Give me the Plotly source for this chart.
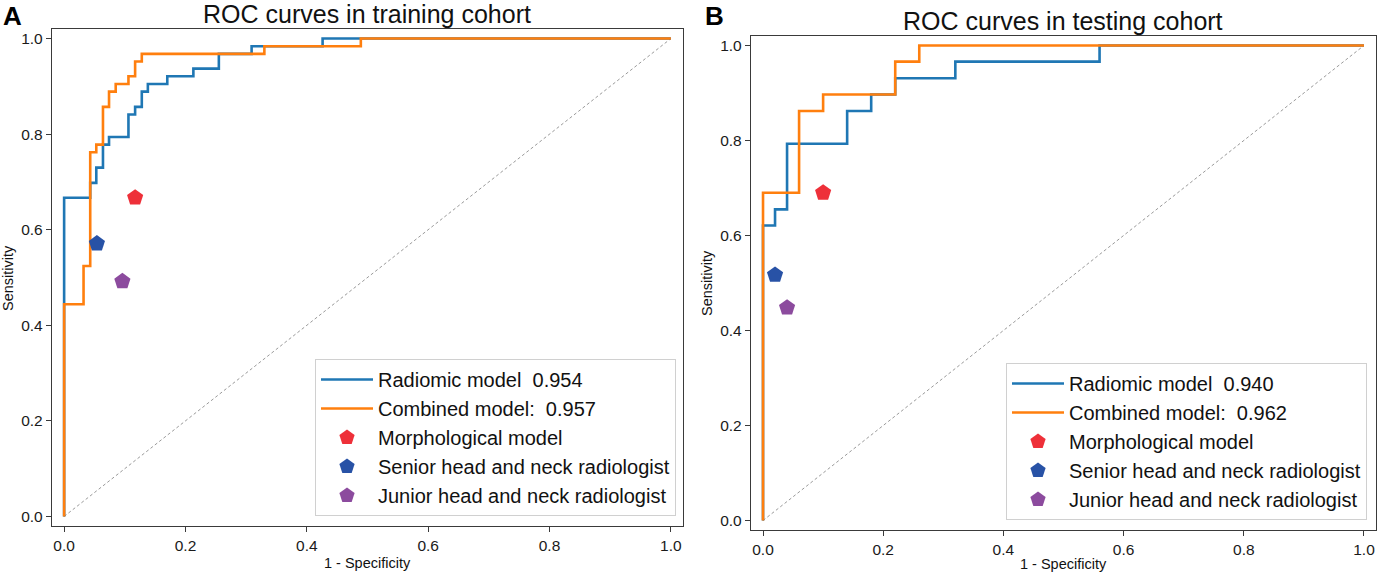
import plotly.graph_objects as go

# ---------------- data ----------------
# Panel A: training cohort (ROC corner points, step shape 'hv')
train_radiomic_fpr = [0.0, 0.0, 0.043, 0.053, 0.064, 0.074, 0.106, 0.117, 0.128, 0.138, 0.170, 0.213, 0.255, 0.309, 0.426, 1.0]
train_radiomic_tpr = [0.0, 0.667, 0.698, 0.730, 0.778, 0.794, 0.841, 0.857, 0.889, 0.905, 0.921, 0.937, 0.968, 0.984, 1.0, 1.0]
train_combined_fpr = [0.0, 0.0, 0.032, 0.043, 0.053, 0.064, 0.074, 0.085, 0.106, 0.117, 0.128, 0.330, 0.489, 1.0]
train_combined_tpr = [0.0, 0.444, 0.524, 0.762, 0.778, 0.857, 0.889, 0.905, 0.921, 0.952, 0.968, 0.984, 1.0, 1.0]

# Panel B: testing cohort
test_radiomic_fpr = [0.0, 0.0, 0.02, 0.04, 0.14, 0.18, 0.22, 0.32, 0.56, 1.0]
test_radiomic_tpr = [0.0, 0.621, 0.655, 0.793, 0.862, 0.897, 0.931, 0.966, 1.0, 1.0]
test_combined_fpr = [0.0, 0.0, 0.06, 0.10, 0.22, 0.26, 1.0]
test_combined_tpr = [0.0, 0.690, 0.862, 0.897, 0.966, 1.0, 1.0]

# single operating points: [morphological, senior, junior]
point_names = ["Morphological model", "Senior head and neck radiologist", "Junior head and neck radiologist"]
train_points_fpr = [0.117, 0.054, 0.096]
train_points_tpr = [0.667, 0.571, 0.492]
test_points_fpr = [0.10, 0.02, 0.04]
test_points_tpr = [0.690, 0.517, 0.448]

train_auc = {"radiomic": "0.954", "combined": "0.957"}
test_auc = {"radiomic": "0.940", "combined": "0.962"}

diag = [0.0, 1.0]
tick_vals = [0.0, 0.2, 0.4, 0.6, 0.8, 1.0]
tick_text = ["0.0", "0.2", "0.4", "0.6", "0.8", "1.0"]

# ---------------- styling ----------------
FONT = "Liberation Sans, Arial, sans-serif"
BLUE = "#1f77b4"
ORANGE = "#ff7f0e"
POINT_COLORS = ["#ee3039", "#2852a6", "#8c4b9e"]
W, H = 1379, 574
NB = "\u00a0"

fig = go.Figure()


def add_panel(xa, ya, legend, rad_fpr, rad_tpr, com_fpr, com_tpr, auc, pfpr, ptpr):
    fig.add_trace(go.Scatter(x=diag, y=diag, mode="lines", xaxis=xa, yaxis=ya,
                             line=dict(color="#9a9a9a", width=1, dash="3px,2.5px"),
                             showlegend=False, hoverinfo="skip"))
    fig.add_trace(go.Scatter(x=rad_fpr, y=rad_tpr, mode="lines", xaxis=xa, yaxis=ya,
                             line=dict(color=BLUE, width=2.6, shape="hv"),
                             name="Radiomic model" + NB + NB + auc["radiomic"], legend=legend))
    fig.add_trace(go.Scatter(x=com_fpr, y=com_tpr, mode="lines", xaxis=xa, yaxis=ya,
                             line=dict(color=ORANGE, width=2.6, shape="hv"),
                             name="Combined model:" + NB + NB + auc["combined"], legend=legend))
    for i, nm in enumerate(point_names):
        fig.add_trace(go.Scatter(x=[pfpr[i]], y=[ptpr[i]], mode="markers", xaxis=xa, yaxis=ya,
                                 marker=dict(symbol="pentagon", size=17, color=POINT_COLORS[i],
                                             line=dict(width=0)),
                                 name=nm, legend=legend))


add_panel("x", "y", "legend", train_radiomic_fpr, train_radiomic_tpr,
          train_combined_fpr, train_combined_tpr, train_auc, train_points_fpr, train_points_tpr)
add_panel("x2", "y2", "legend2", test_radiomic_fpr, test_radiomic_tpr,
          test_combined_fpr, test_combined_tpr, test_auc, test_points_fpr, test_points_tpr)


def px_x(p):
    return p / W


def px_y(p):
    return 1 - p / H


axis_common = dict(range=[-0.02, 1.02], tickmode="array", tickvals=tick_vals, ticktext=tick_text,
                   showgrid=False, zeroline=False, showline=True, mirror=True,
                   linecolor="#3a3a3a", linewidth=1.4, ticks="outside", ticklen=5,
                   tickwidth=1.2, tickcolor="#3a3a3a",
                   tickfont=dict(family=FONT, size=15.5, color="#1a1a1a"))

legend_common = dict(xanchor="right", yanchor="bottom",
                     bgcolor="rgba(255,255,255,0.9)", bordercolor="#d0d0d0", borderwidth=1,
                     font=dict(family=FONT, size=20, color="#111111"), itemwidth=52,
                     tracegroupgap=0)

fig.update_layout(
    width=W, height=H,
    margin=dict(l=0, r=0, t=0, b=0),
    paper_bgcolor="white", plot_bgcolor="white",
    font=dict(family=FONT, color="#111111"),
    xaxis=dict(domain=[px_x(52), px_x(683)], anchor="y", **axis_common),
    yaxis=dict(domain=[px_y(526), px_y(29)], anchor="x", **axis_common),
    xaxis2=dict(domain=[px_x(751), px_x(1376)], anchor="y2", **axis_common),
    yaxis2=dict(domain=[px_y(530), px_y(36)], anchor="x2", **axis_common),
    legend=dict(x=px_x(676), y=px_y(516), **legend_common),
    legend2=dict(x=px_x(1367), y=px_y(520), **legend_common),
    showlegend=True,
)

annotations = [
    dict(text="ROC curves in training cohort", x=px_x(367), y=px_y(14), size=25),
    dict(text="ROC curves in testing cohort", x=px_x(1063), y=px_y(21), size=25),
    dict(text="1 - Specificity", x=px_x(367), y=px_y(563), size=14.5),
    dict(text="1 - Specificity", x=px_x(1063), y=px_y(564), size=14.5),
]
for a in annotations:
    fig.add_annotation(text=a["text"], x=a["x"], y=a["y"], xref="paper", yref="paper",
                       xanchor="center", yanchor="middle", showarrow=False,
                       font=dict(family=FONT, size=a["size"], color="#111111"))

fig.add_annotation(text="Sensitivity", x=px_x(8), y=px_y(278), xref="paper", yref="paper",
                   textangle=-90, showarrow=False, xanchor="center", yanchor="middle",
                   font=dict(family=FONT, size=14.5, color="#111111"))
fig.add_annotation(text="Sensitivity", x=px_x(707), y=px_y(283), xref="paper", yref="paper",
                   textangle=-90, showarrow=False, xanchor="center", yanchor="middle",
                   font=dict(family=FONT, size=14.5, color="#111111"))

fig.add_annotation(text="<b>A</b>", x=px_x(12), y=px_y(16), xref="paper", yref="paper",
                   showarrow=False, xanchor="center", yanchor="middle",
                   font=dict(family=FONT, size=26, color="black"))
fig.add_annotation(text="<b>B</b>", x=px_x(714), y=px_y(16), xref="paper", yref="paper",
                   showarrow=False, xanchor="center", yanchor="middle",
                   font=dict(family=FONT, size=26, color="black"))

fig.write_html("out.html", config={"displayModeBar": False},
               post_script="document.body.style.margin='0';document.body.style.overflow='hidden';")
